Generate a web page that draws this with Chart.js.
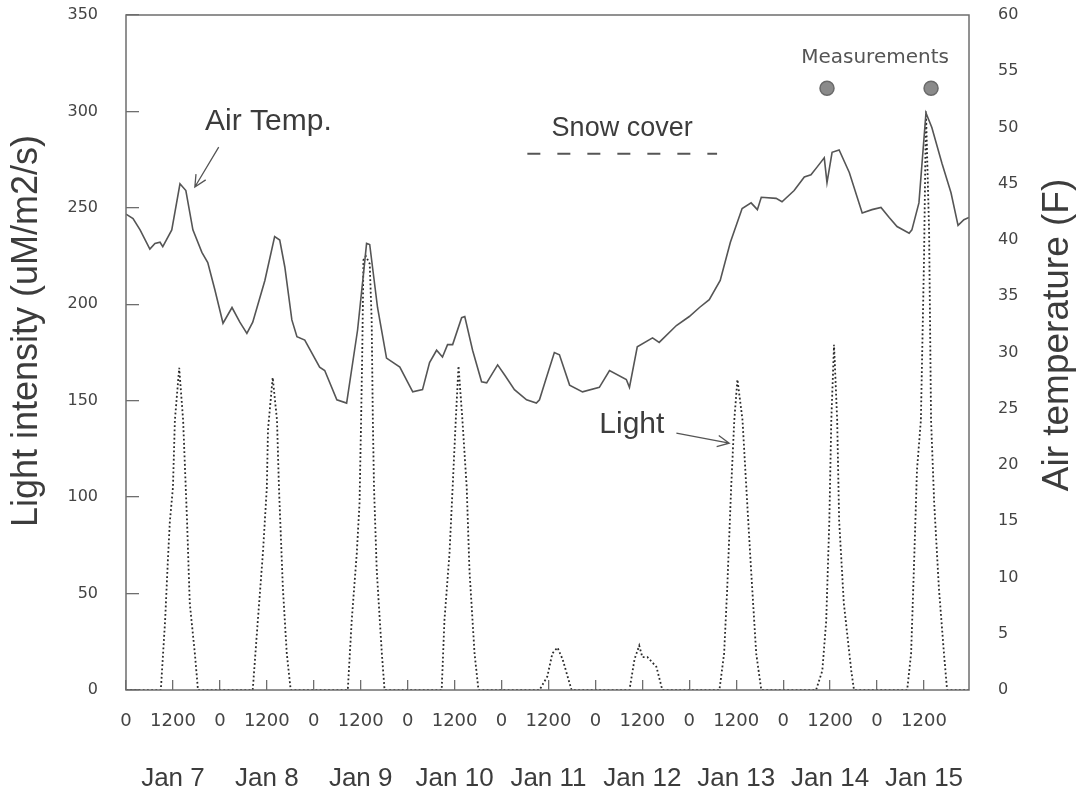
<!DOCTYPE html>
<html lang="en">
<head>
<meta charset="UTF-8">
<title>Light intensity and air temperature</title>
<script src="https://cdn.jsdelivr.net/npm/chart.js"></script>
<style>
    body {
        margin: 0;
        padding: 0;
        background: #fff;
    }
</style>
</head>
<body>
<canvas id="chart" width="1078" height="791"></canvas>
<script>
// time axis: hours counted from Jan 7, 00:00
const tickHours = [0, 12, 24, 36, 48, 60, 72, 84, 96, 108, 120, 132, 144, 156, 168, 180, 192, 204];
const tickLabels = ['0', '1200', '0', '1200', '0', '1200', '0', '1200', '0', '1200',
                    '0', '1200', '0', '1200', '0', '1200', '0', '1200'];
const dateHours = [12, 36, 60, 84, 108, 132, 156, 180, 204];
const dateLabels = ['Jan 7', 'Jan 8', 'Jan 9', 'Jan 10', 'Jan 11', 'Jan 12', 'Jan 13', 'Jan 14', 'Jan 15'];

// air temperature (F), solid line, right axis
const tempHours = [0, 1.8, 3.6, 6.1, 7.4, 8.7, 9.4, 11.7, 13.8, 15.3, 17.1, 19.4, 20.9, 22.7,
    24.8, 27.1, 29.1, 30.9, 32.4, 35.5, 38.0, 39.3, 40.6, 42.4, 43.7, 45.7,
    49.5, 50.8, 53.9, 56.4, 59.2, 60.8, 61.5, 62.3, 64.3, 66.6, 70.0,
    73.3, 75.8, 77.6, 79.4, 80.9, 82.2, 83.5, 85.8, 86.6, 88.6, 90.9, 92.2, 95.0,
    96.8, 99.3, 102.4, 104.9, 105.7, 107.5, 109.5, 110.8, 113.4, 116.7,
    121.0, 123.6, 127.9, 128.7, 130.7, 134.6, 136.3, 140.7, 144.0,
    146.6, 149.1, 151.9, 154.5, 157.5, 159.8, 161.4, 162.4, 166.2, 167.7,
    170.8, 173.4, 175.1, 176.7, 178.5, 179.2, 180.5, 182.3, 184.9, 188.2, 190.7,
    193.0, 195.1, 197.1, 200.2, 200.9, 202.7, 204.5, 206.0, 208.6, 210.9, 212.7, 214.2, 215.5];
const tempValues = [42.3, 41.9, 40.9, 39.2, 39.7, 39.8, 39.4, 40.9, 45.0, 44.4, 40.9, 38.9, 38.0, 35.6,
    32.6, 34.0, 32.7, 31.7, 32.7, 36.4, 40.3, 40.0, 37.6, 32.9, 31.4, 31.1,
    28.7, 28.4, 25.8, 25.5, 32.0, 37.3, 39.7, 39.6, 34.0, 29.5, 28.7,
    26.5, 26.7, 29.1, 30.2, 29.6, 30.7, 30.7, 33.1, 33.2, 30.2, 27.4, 27.3, 28.9,
    28.0, 26.7, 25.8, 25.5, 25.8, 27.8, 30.0, 29.8, 27.1, 26.5,
    26.9, 28.4, 27.6, 26.9, 30.5, 31.3, 30.9, 32.4, 33.2,
    34.0, 34.7, 36.4, 39.8, 42.8, 43.3, 42.7, 43.8, 43.7, 43.4,
    44.4, 45.6, 45.8, 46.5, 47.3, 45.1, 47.8, 48.0, 46.0, 42.4, 42.7,
    42.9, 42.0, 41.2, 40.6, 40.9, 43.3, 51.3, 50.0, 46.8, 44.2, 41.3, 41.8, 42.0];

// light intensity (uM/m2/s), dotted line, left axis
const lightHours = [0, 8.9, 10.0, 10.7, 11.2, 12.0, 12.5, 13.6, 14.6, 15.6, 16.3, 17.6, 18.4,
    32.4, 33.7, 35.0, 36.0, 36.3, 37.5, 38.6, 39.1, 40.1, 41.1, 42.1,
    56.7, 57.7, 59.0, 59.7, 60.1, 60.4, 60.7, 61.3, 62.3, 62.8, 63.1, 63.4, 64.1, 65.4, 66.1,
    80.7, 81.4, 82.7, 83.5, 84.3, 85.0, 86.0, 87.1, 87.8, 89.1, 90.1,
    105.7, 107.7, 109.0, 110.3, 111.6, 113.9,
    128.7, 130.0, 131.2, 132.0, 133.3, 135.6, 137.1,
    151.7, 152.9, 153.7, 154.7, 155.5, 156.3, 157.6, 158.8, 159.8, 161.1, 162.4,
    176.4, 178.0, 179.0, 179.8, 180.3, 181.0, 181.8, 182.3, 183.5, 185.4, 186.1,
    199.7, 200.7, 201.4, 202.2, 203.2, 204.0, 204.5, 205.3, 205.8, 206.6, 207.8, 209.1, 209.9, 215.5];
const lightValues = [0, 0, 36, 67, 87, 105, 140, 167, 140, 88, 45, 19, 0,
    0, 36, 71, 105, 135, 162, 140, 105, 53, 19, 0,
    0, 36, 71, 97, 140, 176, 223, 225, 221, 192, 140, 105, 62, 19, 0,
    0, 36, 71, 105, 140, 168, 140, 105, 62, 19, 0,
    0, 7, 19, 22, 16, 0,
    0, 16, 23, 17, 17, 12, 0,
    0, 19, 53, 105, 140, 161, 140, 97, 62, 19, 0,
    0, 10, 36, 88, 140, 179, 140, 88, 45, 10, 0,
    0, 19, 62, 114, 140, 223, 300, 238, 140, 97, 53, 19, 0, 0];

// snow cover bar and measurement dots (left axis units)
const snowHours = [102.6, 151.1];
const snowLevel = [278, 278];
const measureHours = [179.2, 205.8];
const measureLevel = [312, 312];

const ink = '#3c3c3c';

function pairs(xs, ys) {
    return xs.map((x, i) => ({ x: x, y: ys[i] }));
}

function drawArrow(ctx, x1, y1, x2, y2) {
    const ang = Math.atan2(y2 - y1, x2 - x1);
    const head = 13;
    ctx.beginPath();
    ctx.moveTo(x1, y1);
    ctx.lineTo(x2, y2);
    ctx.moveTo(x2 - head * Math.cos(ang - 0.45), y2 - head * Math.sin(ang - 0.45));
    ctx.lineTo(x2, y2);
    ctx.lineTo(x2 - head * Math.cos(ang + 0.45), y2 - head * Math.sin(ang + 0.45));
    ctx.stroke();
}

// fixed box sizes so the plot area lands where the original has it
function fixBox(w, h) {
    return s => {
        if (w) s.width = w;
        if (h) s.height = h;
        s.paddingTop = 0;
        s.paddingBottom = 0;
        s.paddingLeft = 0;
        s.paddingRight = 0;
    };
}

// frame, axis titles and the text notes on the plot
const notesPlugin = {
    id: 'notes',
    afterDraw(chart) {
        const { ctx, chartArea: a, scales } = chart;
        const px = v => scales.x.getPixelForValue(v);
        const py = v => scales.yLight.getPixelForValue(v);
        ctx.save();

        ctx.strokeStyle = '#6e6e6e';
        ctx.lineWidth = 1.5;
        ctx.strokeRect(a.left, a.top, a.right - a.left, a.bottom - a.top);

        ctx.fillStyle = ink;
        ctx.textAlign = 'center';
        ctx.textBaseline = 'alphabetic';

        ctx.save();
        ctx.translate(37, 331);
        ctx.rotate(-Math.PI / 2);
        ctx.font = '36px "Liberation Sans"';
        ctx.fillText('Light intensity (uM/m2/s)', 0, 0);
        ctx.restore();

        ctx.save();
        ctx.translate(1068, 335);
        ctx.rotate(-Math.PI / 2);
        ctx.font = '37px "Liberation Sans"';
        ctx.fillText('Air temperature (F)', 0, 0);
        ctx.restore();

        ctx.textAlign = 'left';
        ctx.font = '30px "Liberation Sans"';
        ctx.fillText('Air Temp.', px(20.2), py(290.3));
        ctx.fillText('Light', px(121.0), py(133.2));
        ctx.font = '27px "Liberation Sans"';
        ctx.fillText('Snow cover', px(108.8), py(287.2));
        ctx.font = '20px "DejaVu Sans"';
        ctx.fillStyle = '#555';
        ctx.fillText('Measurements', px(172.6), py(325));

        ctx.strokeStyle = '#555';
        ctx.lineWidth = 1.3;
        drawArrow(ctx, px(23.7), py(281.5), px(17.6), py(260.8));
        drawArrow(ctx, px(140.7), py(133.2), px(154.2), py(128));
        ctx.restore();
    }
};

new Chart(document.getElementById('chart'), {
    type: 'line',
    data: {
        datasets: [
            {
                label: 'Air Temp.',
                data: pairs(tempHours, tempValues),
                yAxisID: 'yTemp',
                borderColor: '#555',
                borderWidth: 1.6,
                pointRadius: 0,
                tension: 0
            },
            {
                label: 'Light',
                data: pairs(lightHours, lightValues),
                yAxisID: 'yLight',
                borderColor: '#2a2a2a',
                borderWidth: 1.8,
                borderDash: [1.8, 2.4],
                pointRadius: 0,
                tension: 0
            },
            {
                label: 'Snow cover',
                data: pairs(snowHours, snowLevel),
                yAxisID: 'yLight',
                borderColor: '#555',
                borderWidth: 2,
                borderDash: [13, 17],
                pointRadius: 0
            },
            {
                label: 'Measurements',
                data: pairs(measureHours, measureLevel),
                yAxisID: 'yLight',
                showLine: false,
                pointRadius: 7,
                pointBackgroundColor: '#8a8a8a',
                pointBorderColor: '#6a6a6a',
                pointBorderWidth: 1.5
            }
        ]
    },
    options: {
        responsive: false,
        animation: false,
        layout: { padding: { top: 15, left: 0, right: 0, bottom: 0 } },
        plugins: {
            legend: { display: false },
            tooltip: { enabled: false }
        },
        scales: {
            x: {
                type: 'linear',
                position: 'bottom',
                weight: 0,
                min: 0,
                max: 215.5,
                afterBuildTicks: s => { s.ticks = tickHours.map(v => ({ value: v })); },
                afterFit: fixBox(0, 50),
                grid: { drawOnChartArea: false, tickLength: -10, color: '#6e6e6e', lineWidth: 1.3 },
                border: { display: false },
                ticks: {
                    autoSkip: false,
                    maxRotation: 0,
                    padding: 31,
                    color: '#444',
                    font: { family: 'DejaVu Sans', size: 18 },
                    callback: (v, i) => tickLabels[i]
                }
            },
            xDate: {
                type: 'linear',
                position: 'bottom',
                weight: 1,
                min: 0,
                max: 215.5,
                afterBuildTicks: s => { s.ticks = dateHours.map(v => ({ value: v })); },
                afterFit: fixBox(0, 51),
                grid: { display: false },
                border: { display: false },
                ticks: {
                    autoSkip: false,
                    maxRotation: 0,
                    padding: 15,
                    color: ink,
                    font: { family: 'Liberation Sans', size: 26 },
                    callback: (v, i) => dateLabels[i]
                }
            },
            yLight: {
                type: 'linear',
                position: 'left',
                min: 0,
                max: 350,
                afterFit: fixBox(126, 0),
                grid: { drawOnChartArea: false, tickLength: -13, color: '#6e6e6e', lineWidth: 1.3 },
                border: { display: false },
                ticks: {
                    stepSize: 50,
                    padding: 41,
                    color: '#444',
                    font: { family: 'DejaVu Sans', size: 16 }
                }
            },
            yTemp: {
                type: 'linear',
                position: 'right',
                min: 0,
                max: 60,
                afterFit: fixBox(109, 0),
                grid: { display: false },
                border: { display: false },
                ticks: {
                    stepSize: 5,
                    padding: 21,
                    color: '#444',
                    font: { family: 'DejaVu Sans', size: 16 }
                }
            }
        }
    },
    plugins: [notesPlugin]
});
</script>
</body>
</html>
